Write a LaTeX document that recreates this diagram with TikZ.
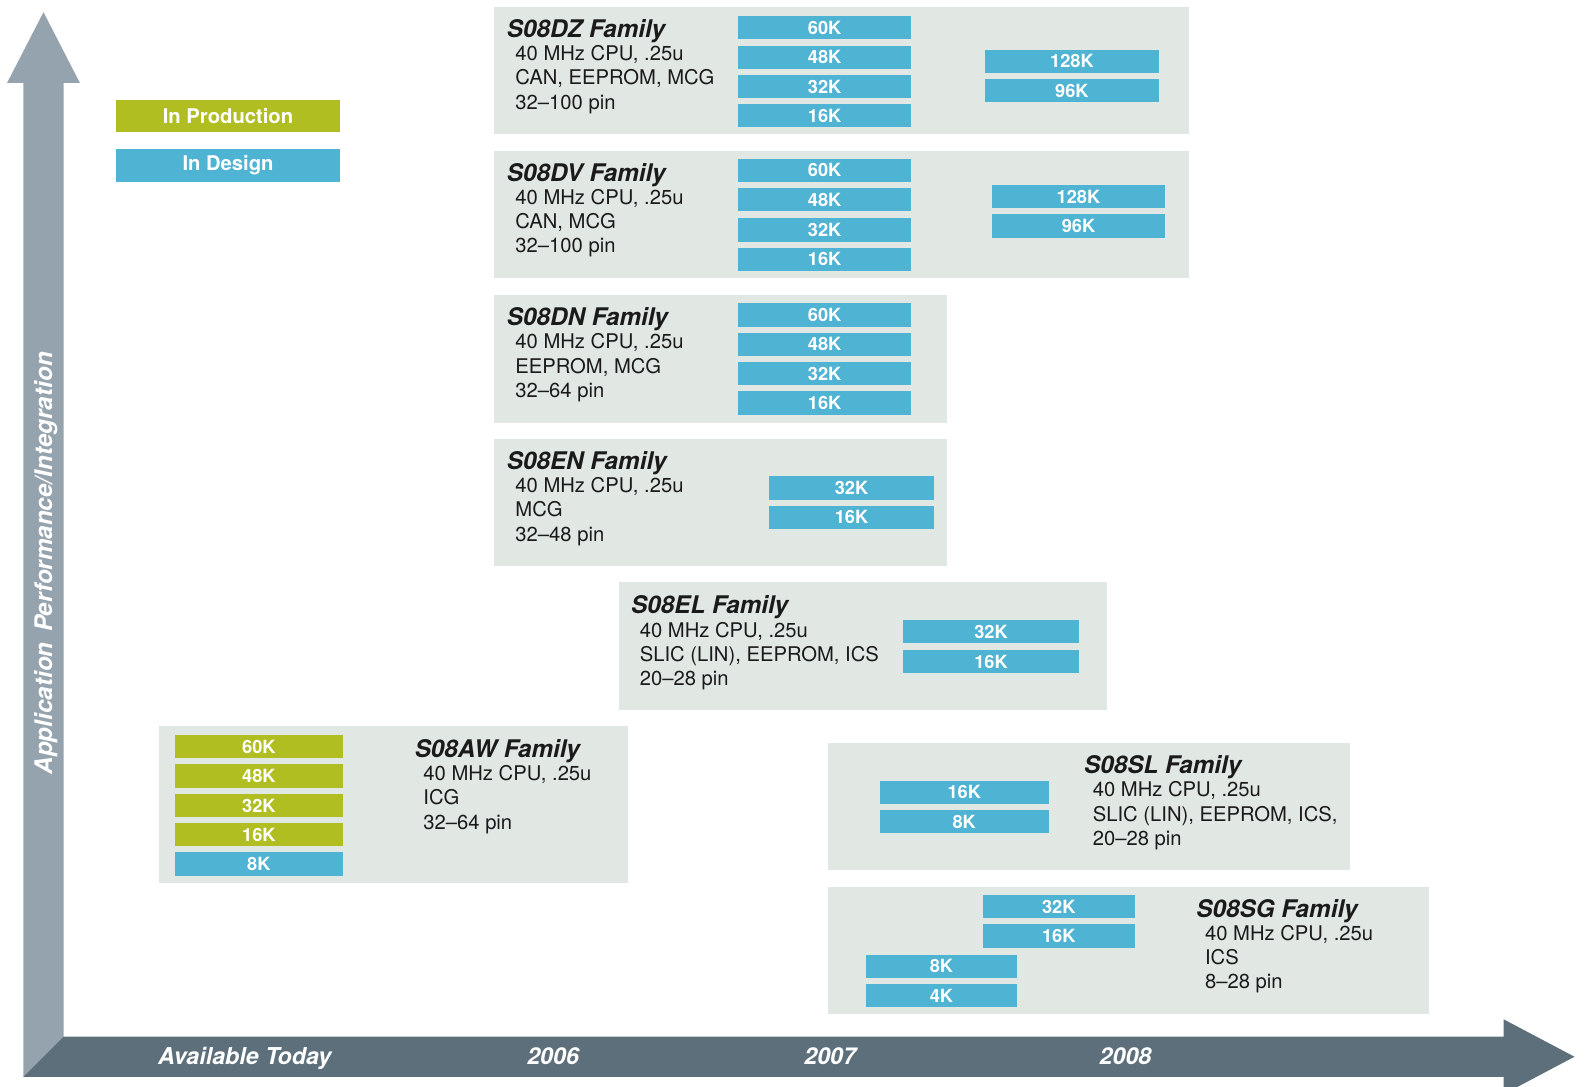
\documentclass[tikz,border=0pt]{standalone}
\usepackage{fontspec}
\setmainfont{TeX Gyre Heros}
\definecolor{famgray}{HTML}{E1E7E3}
\definecolor{memblue}{HTML}{4FB3D3}
\definecolor{memolive}{HTML}{B0BE22}
\definecolor{vaxis}{HTML}{95A3AE}
\definecolor{haxis}{HTML}{5C6F7B}
\definecolor{txt}{HTML}{1A1A1A}
\newcommand\membar[7]{%
  \node[#1, anchor=north west, minimum width={#5-#3}, minimum height={#6-#4}] (#2) at (#3,#4) {#7};}
\newcommand\famtext[7]{%
  \node[ttl, anchor=base west] (#1-t) at (#2,#3) {#4};
  \node[bdy, anchor=base west] (#1-1) at (#2+8.5,#3+23) {#5};
  \node[bdy, anchor=base west] (#1-2) at (#2+8.5,#3+47) {#6};
  \node[bdy, anchor=base west] (#1-3) at (#2+8.5,#3+71) {#7};}
\begin{document}
\begin{tikzpicture}[x=1pt,y=-1pt,
  famrect/.style={fill=famgray, inner sep=0, outer sep=0, draw=none},
  bluebar/.style={fill=memblue, inner sep=0, outer sep=0, text=white, font=\fontsize{18}{20}\selectfont\bfseries},
  olivebar/.style={fill=memolive, inner sep=0, outer sep=0, text=white, font=\fontsize{18}{20}\selectfont\bfseries},
  legbox/.style={inner sep=0, outer sep=0, text=white, font=\fontsize{20}{22}\selectfont\bfseries},
  ttl/.style={inner sep=0, text=txt, font=\fontsize{24}{28}\selectfont\bfseries\itshape},
  bdy/.style={inner sep=0, text=txt, font=\fontsize{20}{24}\selectfont},
  axislbl/.style={inner sep=0, text=white, font=\fontsize{23}{27}\selectfont\bfseries\itshape},
]
\useasboundingbox (0,0) rectangle (1568.4,1074);
% axes
\fill[vaxis] (23,1065) -- (23,82) -- (7,82) -- (43,12) -- (79,82) -- (63,82) -- (63,1025) -- cycle;
\fill[haxis] (23,1065) -- (63,1025) -- (1487,1025) -- (1487,1008) -- (1557,1045) -- (1487,1082) -- (1487,1065) -- cycle;
\node[axislbl, font=\fontsize{24}{28}\selectfont\bfseries\itshape, rotate=90, anchor=base] (ylab) at (51.5,557) {Application\hspace{0.15em} Performance/Integration};
\node[axislbl, anchor=base] (xl0) at (242,1053) {Available Today};
\node[axislbl, anchor=base] (xl1) at (547,1053) {2006};
\node[axislbl, anchor=base] (xl2) at (821,1053) {2007};
\node[axislbl, anchor=base] (xl3) at (1113,1053) {2008};
% legend
\membar{legbox,fill=memolive}{legprod}{115}{99}{336}{131}{In Production}
\membar{legbox,fill=memblue}{legdes}{115}{147}{336}{180}{In Design}
% family boxes
\membar{famrect}{dz}{489}{7}{1176}{133}{}
\membar{famrect}{dv}{489}{149}{1176}{275}{}
\membar{famrect}{dn}{489}{292}{936}{418}{}
\membar{famrect}{en}{489}{434}{936}{560}{}
\membar{famrect}{el}{612}{576}{1095}{702}{}
\membar{famrect}{aw}{157}{718}{621}{873}{}
\membar{famrect}{sl}{819}{735}{1335}{860}{}
\membar{famrect}{sg}{819}{877}{1413}{1003}{}
% DZ bars
\membar{bluebar}{dz60}{730}{16}{901}{39}{60K}
\membar{bluebar}{dz48}{730}{45}{901}{68}{48K}
\membar{bluebar}{dz32}{730}{74}{901}{97}{32K}
\membar{bluebar}{dz16}{730}{103}{901}{126}{16K}
\membar{bluebar}{dz128}{974}{49}{1146}{72}{128K}
\membar{bluebar}{dz96}{974}{78}{1146}{101}{96K}
% DV bars
\membar{bluebar}{dv60}{730}{157}{901}{180}{60K}
\membar{bluebar}{dv48}{730}{186}{901}{209}{48K}
\membar{bluebar}{dv32}{730}{216}{901}{239}{32K}
\membar{bluebar}{dv16}{730}{245}{901}{268}{16K}
\membar{bluebar}{dv128}{981}{183}{1152}{206}{128K}
\membar{bluebar}{dv96}{981}{212}{1152}{235}{96K}
% DN bars
\membar{bluebar}{dn60}{730}{300}{901}{323}{60K}
\membar{bluebar}{dn48}{730}{329}{901}{352}{48K}
\membar{bluebar}{dn32}{730}{358}{901}{381}{32K}
\membar{bluebar}{dn16}{730}{387}{901}{410}{16K}
% EN bars
\membar{bluebar}{en32}{760}{471}{924}{494}{32K}
\membar{bluebar}{en16}{760}{500}{924}{523}{16K}
% EL bars
\membar{bluebar}{el32}{893}{613}{1067}{636}{32K}
\membar{bluebar}{el16}{893}{643}{1067}{666}{16K}
% AW bars
\membar{olivebar}{aw60}{173}{727}{339}{750}{60K}
\membar{olivebar}{aw48}{173}{756}{339}{779}{48K}
\membar{olivebar}{aw32}{173}{785}{339}{808}{32K}
\membar{olivebar}{aw16}{173}{814}{339}{837}{16K}
\membar{bluebar}{aw8}{173}{843}{339}{866}{8K}
% SL bars
\membar{bluebar}{sl16}{870}{772}{1037}{795}{16K}
\membar{bluebar}{sl8}{870}{801}{1037}{824}{8K}
% SG bars
\membar{bluebar}{sg32}{972}{885}{1122}{908}{32K}
\membar{bluebar}{sg16}{972}{914}{1122}{937}{16K}
\membar{bluebar}{sg8}{856}{944}{1006}{967}{8K}
\membar{bluebar}{sg4}{856}{973}{1006}{996}{4K}
% family texts
\famtext{dzx}{501}{37}{S08DZ Family}{40 MHz CPU, .25u}{CAN, EEPROM, MCG}{32–100 pin}
\famtext{dvx}{501}{179}{S08DV Family}{40 MHz CPU, .25u}{CAN, MCG}{32–100 pin}
\famtext{dnx}{501}{322}{S08DN Family}{40 MHz CPU, .25u}{EEPROM, MCG}{32–64 pin}
\famtext{enx}{501}{464}{S08EN Family}{40 MHz CPU, .25u}{MCG}{32–48 pin}
\famtext{elx}{624}{607}{S08EL Family}{40 MHz CPU, .25u}{SLIC (LIN), EEPROM, ICS}{20–28 pin}
\famtext{awx}{410}{749}{S08AW Family}{40 MHz CPU, .25u}{ICG}{32–64 pin}
\famtext{slx}{1072}{765}{S08SL Family}{40 MHz CPU, .25u}{SLIC (LIN), EEPROM, ICS,}{20–28 pin}
\famtext{sgx}{1183}{907}{S08SG Family}{40 MHz CPU, .25u}{ICS}{8–28 pin}
\end{tikzpicture}
\end{document}
